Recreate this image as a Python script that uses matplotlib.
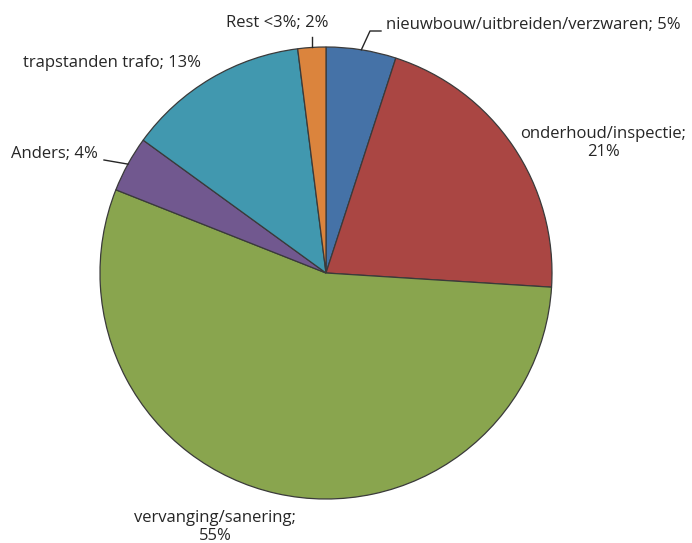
import numpy as np
import matplotlib
matplotlib.use("Agg")
import matplotlib.pyplot as plt

categories = ["nieuwbouw/uitbreiden/verzwaren", "onderhoud/inspectie",
              "vervanging/sanering", "Anders", "trapstanden trafo", "Rest <3%"]
shares = [5, 21, 55, 4, 13, 2]
colors = ["#4572A7", "#AA4643", "#89A54E", "#71588F", "#4198AF", "#DB843D"]

plt.rcParams["font.family"] = ["Open Sans", "DejaVu Sans"]

W, H = 692, 543
fig = plt.figure(figsize=(W / 100, H / 100), dpi=100)
ax = fig.add_axes([0, 0, 1, 1])

cx, cy, r = 326, H - 273, 226
wedges, _ = ax.pie(shares, colors=colors, startangle=90, counterclock=False,
                   center=(cx, cy), radius=r, frame=True,
                   wedgeprops=dict(edgecolor="#3a3a3a", linewidth=0.9))
ax.set_xlim(0, W)
ax.set_ylim(0, H)
ax.set_aspect("equal")
ax.axis("off")


def rim(w):
    a = np.deg2rad((w.theta1 + w.theta2) / 2)
    return cx + r * np.cos(a), cy + r * np.sin(a)


labels = [f"{c}; {s}%" for c, s in zip(categories, shares)]
fs = 12
tc = "#262626"
lc = "#262626"

# nieuwbouw: leader with a small knee
x0, y0 = rim(wedges[0])
ax.plot([x0, 370, 381], [y0, H - 31, H - 31], color=lc, lw=1)
ax.text(386, H - 25, labels[0], fontsize=fs, color=tc, ha="left", va="center")

ax.text(603, H - 143, f"{categories[1]};\n{shares[1]}%", fontsize=fs, color=tc,
        ha="center", va="center", linespacing=1.15)

ax.text(215, H - 527, f"{categories[2]};\n{shares[2]}%", fontsize=fs, color=tc,
        ha="center", va="center", linespacing=1.15)

x3, y3 = rim(wedges[3])
ax.plot([x3, 104], [y3, H - 160], color=lc, lw=1)
ax.text(11, H - 154, labels[3], fontsize=fs, color=tc, ha="left", va="center")

ax.text(23, H - 63, labels[4], fontsize=fs, color=tc, ha="left", va="center")

x5, y5 = rim(wedges[5])
ax.plot([x5, x5], [y5, H - 37], color=lc, lw=1)
ax.text(277, H - 23, labels[5], fontsize=fs, color=tc, ha="center", va="center")

fig.savefig("out.png", dpi=100)
